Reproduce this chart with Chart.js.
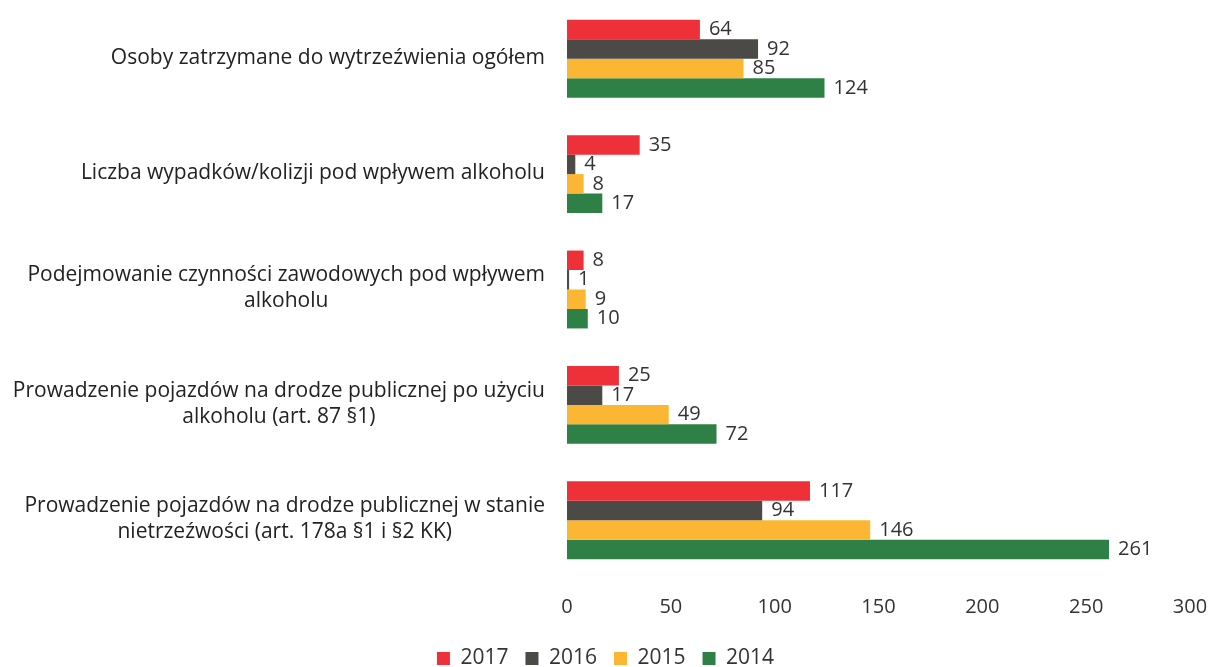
<!DOCTYPE html>
<html>
<head>
  <meta charset="utf-8">
  <title>Alkohol</title>
  <script src="https://cdn.jsdelivr.net/npm/chart.js"></script>
  <style>
    html, body { margin: 0; padding: 0; background: #fff; overflow: hidden; }
    .wrap { width: 1211px; height: 679px; position: relative; }
  </style>
</head>
<body>
  <div class="wrap">
    <canvas id="chart"></canvas>
  </div>
  <script>
    // kategorie i dane
    const categories = [
      ['Osoby zatrzymane do wytrzeźwienia ogółem'],
      ['Liczba wypadków/kolizji pod wpływem alkoholu'],
      ['Podejmowanie czynności zawodowych pod wpływem', 'alkoholu'],
      ['Prowadzenie pojazdów na drodze publicznej po użyciu', 'alkoholu (art. 87 §1)'],
      ['Prowadzenie pojazdów na drodze publicznej w stanie', 'nietrzeźwości (art. 178a §1 i §2 KK)']
    ];
    const years = ['2017', '2016', '2015', '2014'];
    const data2017 = [64, 35, 8, 25, 117];
    const data2016 = [92, 4, 1, 17, 94];
    const data2015 = [85, 8, 9, 49, 146];
    const data2014 = [124, 17, 10, 72, 261];
    const colors = ['#ee3038', '#4b4a46', '#fbb733', '#2f8046'];

    const FONT = '"Open Sans", sans-serif';

    // etykiety wartości przy końcu słupka
    const valueLabels = {
      id: 'valueLabels',
      afterDatasetsDraw(chart) {
        const c = chart.ctx;
        c.save();
        c.font = '20px ' + FONT;
        c.fillStyle = '#333';
        c.textBaseline = 'middle';
        c.textAlign = 'left';
        chart.data.datasets.forEach((ds, i) => {
          chart.getDatasetMeta(i).data.forEach((bar, j) => {
            c.fillText(ds.data[j], bar.x + 9, bar.y);
          });
        });
        c.restore();
      }
    };

    // etykiety kategorii: blok wyrównany do prawej, linie wyśrodkowane
    const catLabels = {
      id: 'catLabels',
      afterDraw(chart) {
        const c = chart.ctx;
        const y = chart.scales.y;
        const right = chart.chartArea.left - 22;
        const lh = 26;
        c.save();
        c.font = '21px ' + FONT;
        c.fillStyle = '#222';
        c.textBaseline = 'middle';
        c.textAlign = 'center';
        categories.forEach((lines, i) => {
          const cy = y.getPixelForTick(i);
          const w = Math.max(...lines.map(l => c.measureText(l).width));
          const cx = right - w / 2;
          const y0 = cy - (lines.length - 1) * lh / 2 - 1;
          lines.forEach((l, k) => c.fillText(l, cx, y0 + k * lh));
        });
        c.restore();
      }
    };

    new Chart(document.getElementById('chart'), {
      type: 'bar',
      data: {
        labels: categories.map(l => l.join(' ')),
        datasets: [
          { label: years[0], data: data2017, backgroundColor: colors[0] },
          { label: years[1], data: data2016, backgroundColor: colors[1] },
          { label: years[2], data: data2015, backgroundColor: colors[2] },
          { label: years[3], data: data2014, backgroundColor: colors[3] }
        ]
      },
      options: {
        indexAxis: 'y',
        responsive: true,
        maintainAspectRatio: false,
        animation: false,
        layout: { padding: { left: 0, right: 0, top: 1, bottom: 0 } },
        datasets: {
          bar: { barPercentage: 1.0, categoryPercentage: 0.675 }
        },
        scales: {
          x: {
            min: 0,
            max: 300,
            ticks: { stepSize: 50, color: '#333', font: { size: 20, family: FONT }, padding: 17 },
            grid: { display: false, drawTicks: false },
            border: { display: false },
            afterFit(axis) {
              axis.height = 53;
              axis.paddingRight = 21;
            }
          },
          y: {
            ticks: { display: false },
            grid: { display: false, drawTicks: false },
            border: { display: false },
            afterFit(axis) { axis.width = 567; }
          }
        },
        plugins: {
          legend: {
            position: 'bottom',
            labels: {
              boxWidth: 13,
              boxHeight: 13,
              padding: 17,
              color: '#333',
              font: { size: 21, family: FONT }
            }
          },
          tooltip: { enabled: false }
        }
      },
      plugins: [valueLabels, catLabels]
    });
  </script>
</body>
</html>
